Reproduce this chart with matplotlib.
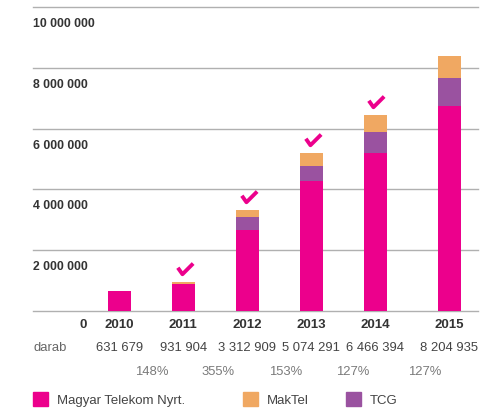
import matplotlib.pyplot as plt
import matplotlib.transforms as mtransforms
from matplotlib.patches import Rectangle
import numpy as np

plt.rcParams['font.family'] = ['Liberation Sans', 'DejaVu Sans']

years = ['2010', '2011', '2012', '2013', '2014', '2015']
telekom = [0.66e6, 0.89e6, 2.66e6, 4.28e6, 5.20e6, 6.74e6]
tcg = [0, 0, 0.43e6, 0.49e6, 0.69e6, 0.92e6]
maktel = [0, 0.06e6, 0.23e6, 0.43e6, 0.56e6, 0.72e6]
darab = ['631 679', '931 904', '3 312 909', '5 074 291', '6 466 394', '8 204 935']
growth = ['148%', '355%', '153%', '127%', '127%']
checked = [False, True, True, True, True, False]
yticks = [0, 2e6, 4e6, 6e6, 8e6, 10e6]
ytick_labels = ['0', '2 000 000', '4 000 000', '6 000 000', '8 000 000', '10 000 000']

names = ['Magyar Telekom Nyrt.', 'MakTel', 'TCG']
colors = {'Magyar Telekom Nyrt.': '#EC008C', 'MakTel': '#F0A862', 'TCG': '#9A52A0'}

fig = plt.figure(figsize=(4.8, 4.1), dpi=100)
ax = fig.add_axes([33 / 480, 98 / 410, 445 / 480, 304 / 410])

x = np.arange(len(years), dtype=float)
x[-1] += 0.16  # last column sits a bit further out
w = 0.36

for y in yticks:
    ax.axhline(y, color='#b0b0b0', lw=1.0, zorder=1, clip_on=False)

tk = np.array(telekom)
tc = np.array(tcg)
mk = np.array(maktel)
ax.bar(x, tk, w, color=colors['Magyar Telekom Nyrt.'], zorder=2)
ax.bar(x, tc, w, bottom=tk, color=colors['TCG'], zorder=2)
ax.bar(x, mk, w, bottom=tk + tc, color=colors['MakTel'], zorder=2)

# check marks above the bars
totals = tk + tc + mk
check = [(-1, 0.1), (-0.4, -0.75), (1, 0.65)]
above = mtransforms.offset_copy(ax.transData, fig=fig, x=1, y=10, units='points')
for xi, t, c in zip(x, totals, checked):
    if c:
        ax.plot([xi], [t], transform=above, marker=check, ms=11, mfc='none',
                mec='#EC008C', mew=2.8, ls='none', zorder=3)

# y labels sit just under their gridlines
for y, lab in zip(yticks[1:], ytick_labels[1:]):
    ax.annotate(lab, (0, y), xycoords=('axes fraction', 'data'), xytext=(0, -11.5),
                textcoords='offset points', ha='left', va='center',
                fontsize=8.8, fontweight='bold', color='#333333')

ax.set_xlim(-1.35, 5.61)
ax.set_ylim(0, 10e6)
ax.axis('off')

ax.annotate(ytick_labels[0], (-0.5, 85), xycoords=('data', 'figure pixels'),
            ha='right', va='center', fontsize=9.5, fontweight='bold', color='#333333')
for xi, yr, d in zip(x, years, darab):
    ax.annotate(yr, (xi, 85), xycoords=('data', 'figure pixels'), ha='center',
                va='center', fontsize=9.5, fontweight='bold', color='#333333')
    ax.annotate(d, (xi, 62), xycoords=('data', 'figure pixels'), ha='center',
                va='center', fontsize=9.4, color='#444444')
for i, g in enumerate(growth):
    ax.annotate(g, ((x[i] + x[i + 1]) / 2 + 0.05 * i, 38),
                xycoords=('data', 'figure pixels'), ha='center', va='center',
                fontsize=9.4, color='#7a7a7a')
fig.text(33 / 480, 62 / 410, 'darab', ha='left', va='center', fontsize=9.4, color='#666666')

# legend
leg_x = [33, 243, 346]
for lx, name in zip(leg_x, names):
    fig.patches.append(Rectangle((lx / 480, 3 / 410), 15 / 480, 14 / 410,
                                 transform=fig.transFigure, color=colors[name]))
    fig.text((lx + 24) / 480, 9 / 410, name, ha='left', va='center',
             fontsize=9.5, color='#444444')

fig.savefig('out.png', dpi=100)
